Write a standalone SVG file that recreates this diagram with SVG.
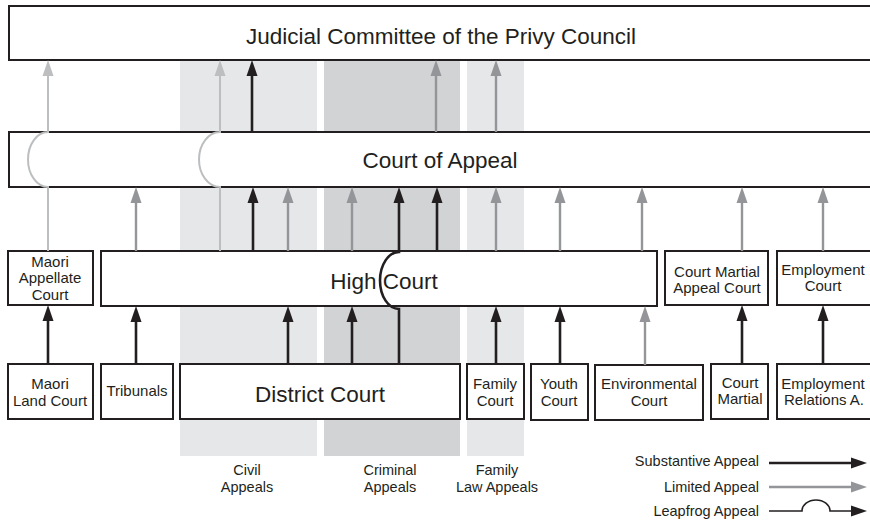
<svg xmlns="http://www.w3.org/2000/svg" width="870" height="520" viewBox="0 0 870 520">
<style>
.box{fill:#fff;stroke:#231f20;stroke-width:2}
.t{font-family:"Liberation Sans",Arial,sans-serif;fill:#231f20;text-anchor:middle}
.big{font-size:22.5px}
.sm{font-size:15px}
.lab{font-size:14.5px}
.blk{fill:none;stroke:#231f20;stroke-width:2.6}
.gry{fill:none;stroke:#939598;stroke-width:2.4}
.lgt{fill:none;stroke:#bcbec0;stroke-width:2}
</style>
<defs>
<marker id="mb" markerUnits="userSpaceOnUse" markerWidth="16" markerHeight="12" refX="6" refY="6" orient="auto"><path d="M0,0.5 L16,6 L0,11.5 z" fill="#231f20"/></marker>
<marker id="mg" markerUnits="userSpaceOnUse" markerWidth="16" markerHeight="12" refX="6" refY="6" orient="auto"><path d="M0,0.5 L16,6 L0,11.5 z" fill="#939598"/></marker>
<marker id="ml" markerUnits="userSpaceOnUse" markerWidth="16" markerHeight="12" refX="6" refY="6" orient="auto"><path d="M0,0.5 L16,6 L0,11.5 z" fill="#bcbec0"/></marker>
</defs>
<rect width="870" height="520" fill="#fff"/>
<g id="bands">
<rect x="180" y="60" width="137" height="396" fill="#e6e7e8"/>
<rect x="324" y="60" width="136" height="396" fill="#d1d3d4"/>
<rect x="467" y="60" width="57" height="396" fill="#e6e7e8"/>
<text class="t lab" x="247" y="475">Civil</text>
<text class="t lab" x="247" y="492">Appeals</text>
<text class="t lab" x="390" y="475">Criminal</text>
<text class="t lab" x="390" y="492">Appeals</text>
<text class="t lab" x="497" y="475">Family</text>
<text class="t lab" x="497" y="492">Law Appeals</text>
</g>
<g id="jc"><rect class="box" x="9" y="6" width="870" height="54"/><text class="t big" x="441" y="44">Judicial Committee of the Privy Council</text></g>
<g id="coa"><rect class="box" x="9" y="132" width="870" height="55"/><text class="t big" x="440" y="168">Court of Appeal</text></g>
<g id="hc"><rect class="box" x="101" y="251" width="556" height="55"/><text class="t big" x="384" y="289">High Court</text></g>
<g id="mac"><rect class="box" x="8" y="251" width="85" height="54"/><text class="t sm" x="50" y="267">Maori</text><text class="t sm" x="50" y="283">Appellate</text><text class="t sm" x="50" y="300">Court</text></g>
<g id="cmac"><rect class="box" x="665" y="251" width="103" height="54"/><text class="t sm" x="717" y="277">Court Martial</text><text class="t sm" x="717" y="293">Appeal Court</text></g>
<g id="ec"><rect class="box" x="777" y="251" width="100" height="54"/><text class="t sm" x="823" y="275">Employment</text><text class="t sm" x="823" y="291">Court</text></g>
<g id="mlc"><rect class="box" x="8" y="364" width="85" height="55"/><text class="t sm" x="50" y="389">Maori</text><text class="t sm" x="50" y="406">Land Court</text></g>
<g id="trib"><rect class="box" x="101" y="364" width="72" height="55"/><text class="t sm" x="137" y="396">Tribunals</text></g>
<g id="dc"><rect class="box" x="180" y="364" width="280" height="55"/><text class="t big" x="320" y="402">District Court</text></g>
<g id="fc"><rect class="box" x="467" y="364" width="57" height="55"/><text class="t sm" x="495" y="389">Family</text><text class="t sm" x="495" y="406">Court</text></g>
<g id="yc"><rect class="box" x="531" y="364" width="57" height="56"/><text class="t sm" x="559" y="389">Youth</text><text class="t sm" x="559" y="406">Court</text></g>
<g id="env"><rect class="box" x="595" y="365" width="108" height="55"/><text class="t sm" x="649" y="389">Environmental</text><text class="t sm" x="649" y="406">Court</text></g>
<g id="cm"><rect class="box" x="711" y="364" width="57" height="55"/><text class="t sm" x="740" y="388">Court</text><text class="t sm" x="740" y="404">Martial</text></g>
<g id="era"><rect class="box" x="777" y="364" width="100" height="55"/><text class="t sm" x="823" y="389">Employment</text><text class="t sm" x="824" y="405">Relations A.</text></g>
<g id="connectors">
<path class="lgt" d="M48,251 V187 A20,27.5 0 0 1 48,132 V70" marker-end="url(#ml)"/>
<path class="lgt" d="M220,251 V187 A21,27.5 0 0 1 220,132 V70" marker-end="url(#ml)"/>
<path class="blk" d="M252,132 V70" marker-end="url(#mb)"/>
<path class="gry" d="M436,132 V70" marker-end="url(#mg)"/>
<path class="gry" d="M496,132 V70" marker-end="url(#mg)"/>
<path class="gry" d="M136,251 V197" marker-end="url(#mg)"/>
<path class="blk" d="M253,251 V197" marker-end="url(#mb)"/>
<path class="gry" d="M288,251 V197" marker-end="url(#mg)"/>
<path class="gry" d="M352,251 V197" marker-end="url(#mg)"/>
<path class="blk" d="M399,364 V309 A19,28.5 0 0 1 399,252 V197" marker-end="url(#mb)"/>
<path class="blk" d="M437,251 V197" marker-end="url(#mb)"/>
<path class="gry" d="M496,251 V197" marker-end="url(#mg)"/>
<path class="gry" d="M560,251 V197" marker-end="url(#mg)"/>
<path class="gry" d="M642,251 V197" marker-end="url(#mg)"/>
<path class="gry" d="M742,251 V197" marker-end="url(#mg)"/>
<path class="gry" d="M823,251 V197" marker-end="url(#mg)"/>
<path class="blk" d="M48,364 V315" marker-end="url(#mb)"/>
<path class="blk" d="M136,364 V316" marker-end="url(#mb)"/>
<path class="blk" d="M288,364 V316" marker-end="url(#mb)"/>
<path class="blk" d="M352,364 V316" marker-end="url(#mb)"/>
<path class="blk" d="M496,364 V316" marker-end="url(#mb)"/>
<path class="blk" d="M560,364 V316" marker-end="url(#mb)"/>
<path class="gry" d="M645,365 V316" marker-end="url(#mg)"/>
<path class="blk" d="M742,364 V315" marker-end="url(#mb)"/>
<path class="blk" d="M823,364 V315" marker-end="url(#mb)"/>
</g>
<g id="legend">
<text class="t lab" x="759" y="466" text-anchor="end" style="text-anchor:end">Substantive Appeal</text>
<text class="t lab" x="759" y="492" style="text-anchor:end">Limited Appeal</text>
<text class="t lab" x="759" y="516" style="text-anchor:end">Leapfrog Appeal</text>
<path class="blk" d="M769,463 H857" marker-end="url(#mb)"/>
<path class="gry" d="M769,487 H857" marker-end="url(#mg)"/>
<path fill="none" stroke="#231f20" stroke-width="1.6" d="M769,511 H802 A14,11 0 0 1 830,511 H857" marker-end="url(#mb)"/>
</g>
</svg>
